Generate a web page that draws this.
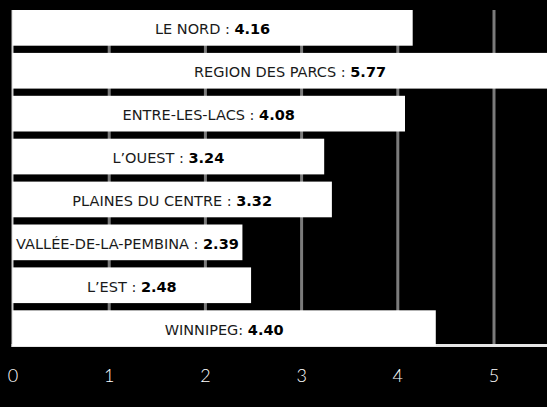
<!DOCTYPE html>
<html>
<head>
<meta charset="utf-8">
<script src="https://cdn.jsdelivr.net/npm/d3@7"></script>
<style>
  html, body { margin: 0; padding: 0; background: #000; }
  svg { display: block; }
</style>
</head>
<body>
<div id="chart"></div>
<script>
const regions = [
  "LE NORD",
  "REGION DES PARCS",
  "ENTRE-LES-LACS",
  "L’OUEST",
  "PLAINES DU CENTRE",
  "VALLÉE-DE-LA-PEMBINA",
  "L’EST",
  "WINNIPEG",
];
const values = [4.16, 5.77, 4.08, 3.24, 3.32, 2.39, 2.48, 4.4];
const separators = [" : ", " : ", " : ", " : ", " : ", " : ", " : ", ": "];
const tickValues = [0, 1, 2, 3, 4, 5];

const data = regions.map((r, i) => ({ region: r, value: values[i], sep: separators[i] }));

/* Sizing */
const width = 547,
  height = 407;
const plot = { left: 12.5, top: 10, bottom: 346 };

const svg = d3
  .select("#chart")
  .append("svg")
  .attr("width", width)
  .attr("height", height);

svg.append("rect").attr("width", width).attr("height", height).attr("fill", "#000");

/* X values */
const xScale = d3
  .scaleLinear()
  .domain([0, 5.5])
  .range([plot.left, plot.left + 5.5 * 96.2]);

/* Y values */
const yScale = d3
  .scaleBand()
  .domain(regions)
  .range([plot.top, plot.bottom])
  .paddingInner(0.168)
  .paddingOuter(0);

// gridlines behind the bars
const grid = svg
  .append("g")
  .attr("transform", `translate(0, ${plot.bottom})`)
  .call(
    d3
      .axisBottom(xScale)
      .tickValues(tickValues.slice(1))
      .tickSize(-(plot.bottom - plot.top))
      .tickFormat("")
  );
grid.select(".domain").remove();
grid.selectAll("line").attr("stroke", "#7b7b7b").attr("stroke-width", 3);

// left axis line
svg
  .append("line")
  .attr("x1", xScale(0))
  .attr("x2", xScale(0))
  .attr("y1", plot.top)
  .attr("y2", plot.bottom + 1)
  .attr("stroke", "#d4d4d4")
  .attr("stroke-width", 2);

// bottom axis line
svg
  .append("line")
  .attr("x1", xScale(0) - 1)
  .attr("x2", width)
  .attr("y1", plot.bottom - 0.5)
  .attr("y2", plot.bottom - 0.5)
  .attr("stroke", "#e6e6e6")
  .attr("stroke-width", 3);

/* Bars */
svg
  .selectAll(".bar")
  .data(data)
  .join("rect")
  .attr("class", "bar")
  .attr("x", xScale(0))
  .attr("y", (d) => yScale(d.region))
  .attr("width", (d) => xScale(d.value) - xScale(0))
  .attr("height", yScale.bandwidth())
  .attr("fill", "#fff");

/* Bar labels */
const labels = svg
  .selectAll(".label")
  .data(data)
  .join("text")
  .attr("class", "label")
  .attr("x", (d) => (xScale(0) + xScale(d.value)) / 2)
  .attr("y", (d) => yScale(d.region) + yScale.bandwidth() / 2)
  .attr("dy", "0.45em")
  .attr("text-anchor", "middle")
  .style("font-family", "'DejaVu Sans', sans-serif")
  .style("font-size", "14.5px")
  .attr("fill", "#1a1a1a");

labels.append("tspan").text((d) => d.region + d.sep);
labels
  .append("tspan")
  .style("font-weight", "bold")
  .attr("fill", "#000")
  .text((d) => d3.format(".2f")(d.value));

/* X axis labels */
const xAxis = d3
  .axisBottom(xScale)
  .tickValues(tickValues)
  .tickFormat(d3.format("d"))
  .tickSize(0)
  .tickPadding(23);
const xAxisDraw = svg.append("g").attr("transform", `translate(0, ${plot.bottom})`).call(xAxis);
xAxisDraw.select(".domain").remove();
xAxisDraw
  .selectAll("text")
  .attr("fill", "#fff")
  .style("font-family", "Lato, sans-serif")
  .style("font-weight", 300)
  .style("font-size", "18px");
</script>
</body>
</html>
